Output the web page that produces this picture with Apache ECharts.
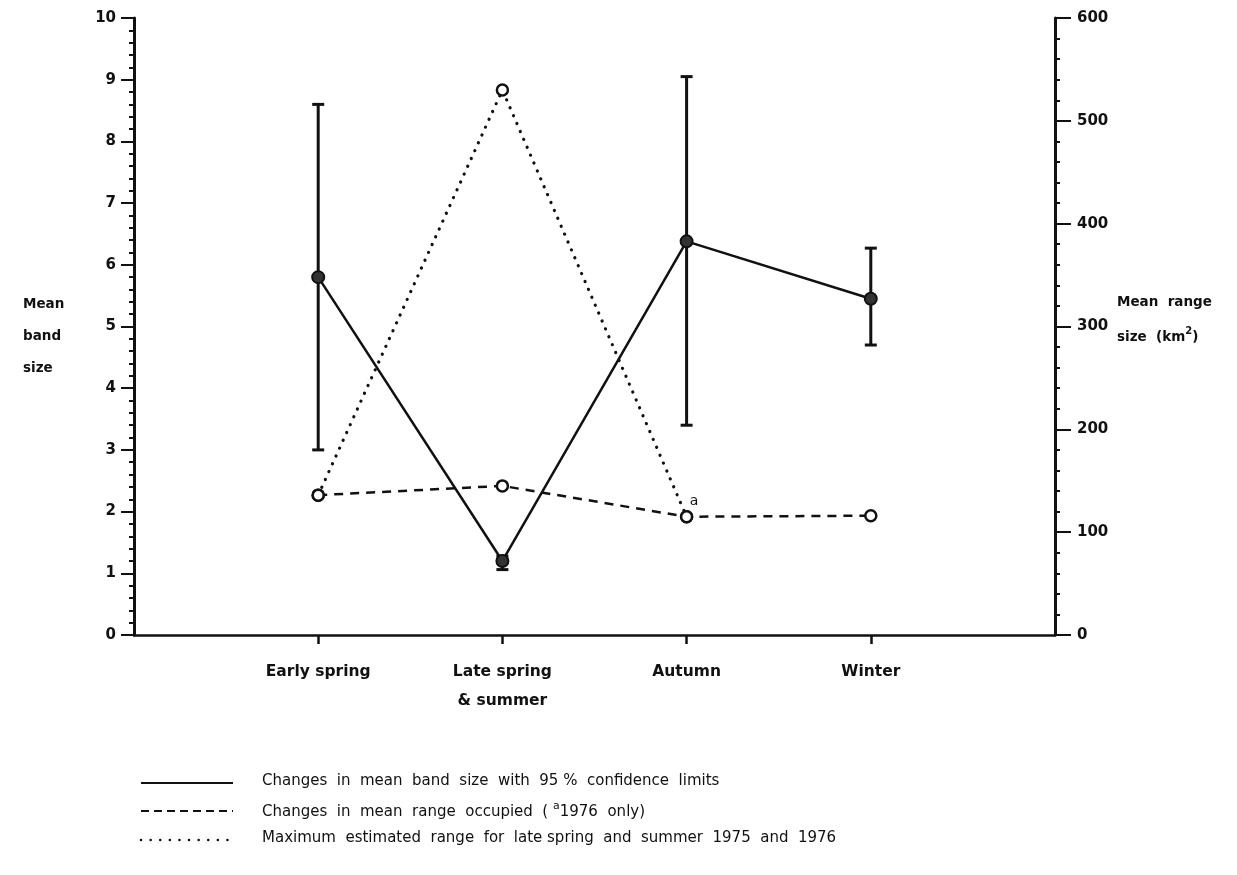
<!DOCTYPE html>
<html>
<head>
<meta charset="utf-8">
<script src="https://cdn.jsdelivr.net/npm/echarts@6/dist/echarts.min.js"></script>
<style>
  html, body { margin: 0; padding: 0; background: #fff; }
  #chart { width: 1237px; height: 875px; }
</style>
</head>
<body>
<div id="chart"></div>
<script>
// Seasons placed at x = 1..4 on a 0..5 value axis
const seasons = ['Early spring', 'Late spring\n& summer', 'Autumn', 'Winter'];
const seasonPos = [1, 2, 3, 4];

// Mean band size with 95% confidence limits (left axis)
const bandMean  = [5.8, 1.2, 6.38, 5.45];
const bandLower = [3.0, 1.06, 3.4, 4.7];
const bandUpper = [8.6, 1.28, 9.05, 6.27];

// Mean range occupied, km² (right axis)
const rangeMean = [136, 145, 115, 116];

// Maximum estimated range, late spring and summer 1975 and 1976 (right axis)
const rangeMax = [136, 530, 115];

// Axis scales
const bandAxis  = { min: 0, max: 10, interval: 1 };
const rangeAxis = { min: 0, max: 600, interval: 100 };

const FONT = 'DejaVu Sans';
const INK = '#111';

const chart = echarts.init(document.getElementById('chart'), null, { renderer: 'canvas' });

const pair = (xs, ys) => ys.map((v, i) => [xs[i], v]);

const openCircle = { color: '#fff', borderColor: INK, borderWidth: 2.5 };

const option = {
  backgroundColor: '#fff',
  animation: false,
  grid: { left: 134, right: 182, top: 18, bottom: 240, containLabel: false },
  xAxis: {
    type: 'value',
    min: 0, max: 5, interval: 1,
    splitLine: { show: false },
    axisLine: { show: true, onZero: false, lineStyle: { color: INK, width: 2.5 } },
    axisTick: { show: true, length: 9, inside: false, customValues: seasonPos,
                lineStyle: { color: INK, width: 2.5 } },
    axisLabel: {
      show: true, customValues: seasonPos, margin: 22,
      color: INK, fontFamily: FONT, fontSize: 15.5, fontWeight: 'bold', lineHeight: 29,
      formatter: v => seasons[seasonPos.indexOf(v)] || ''
    }
  },
  yAxis: [
    {
      type: 'value', position: 'left',
      min: bandAxis.min, max: bandAxis.max, interval: bandAxis.interval,
      splitLine: { show: false },
      axisLine: { show: true, lineStyle: { color: INK, width: 3 } },
      axisTick: { show: true, length: 13, lineStyle: { color: INK, width: 2 } },
      minorTick: { show: true, splitNumber: 5, length: 5, lineStyle: { color: INK, width: 2 } },
      axisLabel: { color: INK, fontFamily: FONT, fontSize: 15, fontWeight: 'bold', margin: 18 }
    },
    {
      type: 'value', position: 'right',
      min: rangeAxis.min, max: rangeAxis.max, interval: rangeAxis.interval,
      splitLine: { show: false },
      axisLine: { show: true, lineStyle: { color: INK, width: 3 } },
      axisTick: { show: true, length: 16, lineStyle: { color: INK, width: 2 } },
      minorTick: { show: true, splitNumber: 5, length: 5, lineStyle: { color: INK, width: 2 } },
      axisLabel: { color: INK, fontFamily: FONT, fontSize: 15, fontWeight: 'bold', margin: 22 }
    }
  ],
  series: [
    {
      // maximum estimated range (dotted)
      name: 'max', type: 'line', yAxisIndex: 1, z: 2,
      data: pair(seasonPos, rangeMax),
      symbol: 'circle', symbolSize: 11, showAllSymbol: true,
      itemStyle: openCircle,
      lineStyle: { color: INK, width: 3.2, type: [0.1, 8.5], cap: 'round' }
    },
    {
      // mean range occupied (dashed)
      name: 'range', type: 'line', yAxisIndex: 1, z: 3,
      data: pair(seasonPos, rangeMean).map((d, i) => i === 2
        ? { value: d, label: { show: true, formatter: 'a', position: [10, -16],
            color: INK, fontFamily: FONT, fontSize: 14 } }
        : d),
      symbol: 'circle', symbolSize: 11, showAllSymbol: true,
      itemStyle: openCircle,
      lineStyle: { color: INK, width: 2.5, type: [9, 7] }
    },
    {
      // 95% confidence limits of mean band size
      name: 'ci', type: 'custom', yAxisIndex: 0, z: 4,
      data: seasonPos.map((x, i) => [x, bandLower[i], bandUpper[i]]),
      encode: { x: 0, y: [1, 2] },
      renderItem: (params, api) => {
        const x = api.value(0);
        const lo = api.coord([x, api.value(1)]);
        const hi = api.coord([x, api.value(2)]);
        const cap = 6;
        const st = { stroke: INK, lineWidth: 3 };
        return {
          type: 'group',
          children: [
            { type: 'line', shape: { x1: lo[0], y1: lo[1], x2: hi[0], y2: hi[1] }, style: st },
            { type: 'line', shape: { x1: lo[0] - cap, y1: lo[1], x2: lo[0] + cap, y2: lo[1] }, style: st },
            { type: 'line', shape: { x1: hi[0] - cap, y1: hi[1], x2: hi[0] + cap, y2: hi[1] }, style: st }
          ]
        };
      }
    },
    {
      // mean band size (solid)
      name: 'band', type: 'line', yAxisIndex: 0, z: 5,
      data: pair(seasonPos, bandMean),
      symbol: 'circle', symbolSize: 12, showAllSymbol: true,
      itemStyle: { color: '#333', borderColor: INK, borderWidth: 2 },
      lineStyle: { color: INK, width: 2.5 }
    }
  ],
  graphic: [
    // left axis title
    { type: 'text', left: 23, top: 297, style: { text: 'Mean', font: 'bold 13.5px ' + FONT, fill: INK } },
    { type: 'text', left: 23, top: 329, style: { text: 'band', font: 'bold 13.5px ' + FONT, fill: INK } },
    { type: 'text', left: 23, top: 361, style: { text: 'size', font: 'bold 13.5px ' + FONT, fill: INK } },
    // right axis title
    { type: 'text', left: 1117, top: 295, style: { text: 'Mean  range', font: 'bold 13.5px ' + FONT, fill: INK } },
    { type: 'text', left: 1117, top: 326, style: {
        text: '{t|size  (km}{s|2}{t|)}',
        rich: {
          t: { font: 'bold 13.5px ' + FONT, fill: INK, lineHeight: 18, verticalAlign: 'bottom' },
          s: { font: 'bold 10px ' + FONT, fill: INK, lineHeight: 11, verticalAlign: 'top' }
        } } },
    // legend keys
    { type: 'line', shape: { x1: 141, y1: 783, x2: 233, y2: 783 }, style: { stroke: INK, lineWidth: 2 } },
    { type: 'line', shape: { x1: 141, y1: 811, x2: 233, y2: 811 }, style: { stroke: INK, lineWidth: 2, lineDash: [8, 5] } },
    { type: 'line', shape: { x1: 141, y1: 840, x2: 233, y2: 840 }, style: { stroke: INK, lineWidth: 2.5, lineDash: [0.1, 9.5], lineCap: 'round' } },
    // legend texts
    { type: 'text', left: 262, top: 774, style: { text: 'Changes  in  mean  band  size  with  95 %  confidence  limits', font: '15px ' + FONT, fill: INK } },
    { type: 'text', left: 262, top: 801, style: {
        text: '{t|Changes  in  mean  range  occupied  ( }{s|a}{t|1976  only)}',
        rich: {
          t: { font: '15px ' + FONT, fill: INK, lineHeight: 19, verticalAlign: 'bottom' },
          s: { font: '11px ' + FONT, fill: INK, lineHeight: 11, verticalAlign: 'top' }
        } } },
    { type: 'text', left: 262, top: 831, style: { text: 'Maximum  estimated  range  for  late spring  and  summer  1975  and  1976', font: '15px ' + FONT, fill: INK } }
  ]
};

chart.setOption(option);
</script>
</body>
</html>
